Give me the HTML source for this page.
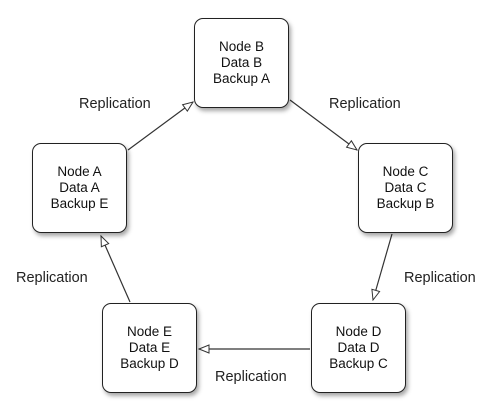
<!DOCTYPE html>
<html><head><style>
body{margin:0;background:#fff;width:499px;height:418px;overflow:hidden;position:relative;font-family:"Liberation Sans",sans-serif;}
.n{position:absolute;width:93px;height:88px;border:1.5px solid #222;border-radius:9px;background:#fff;box-shadow:2px 3px 4px rgba(0,0,0,0.35);display:flex;flex-direction:column;justify-content:center;align-items:center;font-size:13.5px;line-height:16px;color:#111;text-align:center;}
.l{position:absolute;font-size:14.5px;color:#222;line-height:16px;}
svg{position:absolute;left:0;top:0}
</style></head><body>
<svg width="499" height="418">
<defs><marker id="a" markerWidth="12" markerHeight="10" refX="11" refY="5" orient="auto" markerUnits="userSpaceOnUse"><path d="M1,1 L11,5 L1,9 Z" fill="#fff" stroke="#333" stroke-width="1"/></marker></defs>
<g stroke="#333" stroke-width="1.2" fill="none">
<line x1="128" y1="150" x2="193" y2="102" marker-end="url(#a)"/>
<line x1="290" y1="100" x2="357" y2="150" marker-end="url(#a)"/>
<line x1="392" y1="234" x2="373" y2="300" marker-end="url(#a)"/>
<line x1="130" y1="302" x2="101" y2="236" marker-end="url(#a)"/>
<line x1="310" y1="349" x2="199" y2="349" marker-end="url(#a)"/>
</g></svg>
<div class="n" style="left:194px;top:18px">Node B<br>Data B<br>Backup A</div>
<div class="n" style="left:32px;top:143px">Node A<br>Data A<br>Backup E</div>
<div class="n" style="left:358px;top:143px">Node C<br>Data C<br>Backup B</div>
<div class="n" style="left:102px;top:303px">Node E<br>Data E<br>Backup D</div>
<div class="n" style="left:311px;top:303px">Node D<br>Data D<br>Backup C</div>
<div class="l" style="left:79px;top:96px">Replication</div>
<div class="l" style="left:329px;top:96px">Replication</div>
<div class="l" style="left:16px;top:270px">Replication</div>
<div class="l" style="left:404px;top:270px">Replication</div>
<div class="l" style="left:215px;top:369px">Replication</div>
</body></html>
